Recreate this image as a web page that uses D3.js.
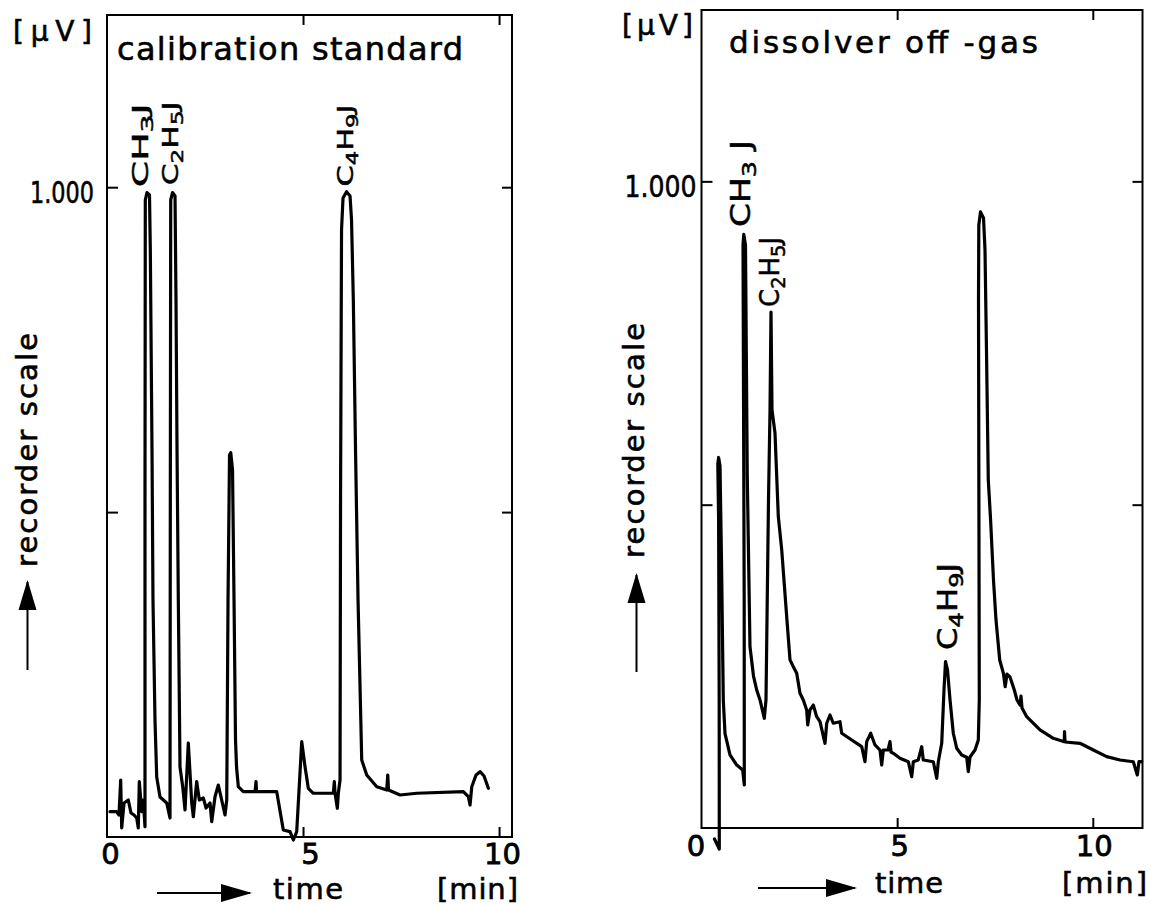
<!DOCTYPE html>
<html>
<head>
<meta charset="utf-8">
<script src="https://cdn.jsdelivr.net/npm/d3@7"></script>
<style>
  body { margin: 0; background: #fff; }
  text { font-family: "DejaVu Sans", sans-serif; fill: #000; }
</style>
</head>
<body>
<svg id="chart"></svg>
<script>
// calibration standard trace: time [min], signal [µV]
const calibTime = [0.077,0.247,0.306,0.349,0.375,0.434,0.543,0.612,0.689,0.758,0.798,0.824,0.885,0.926,0.969,0.969,0.977,1.020,1.084,1.105,1.148,1.173,1.224,1.268,1.352,1.523,1.607,1.615,1.625,1.671,1.735,1.760,1.786,1.819,1.862,1.931,1.990,2.074,2.161,2.202,2.288,2.355,2.457,2.526,2.628,2.671,2.755,2.839,2.926,3.010,3.054,3.087,3.125,3.156,3.202,3.240,3.278,3.304,3.349,3.477,3.776,3.801,3.814,4.329,4.497,4.668,4.753,4.839,4.967,5.051,5.135,5.263,5.773,5.798,5.816,5.875,5.901,5.944,5.957,5.982,6.020,6.110,6.199,6.237,6.283,6.339,6.403,6.497,6.625,6.880,7.135,7.161,7.181,7.474,7.901,9.089,9.217,9.260,9.304,9.413,9.515,9.617,9.727];
const calibSignal = [38.9,38.9,33.9,87.7,13.9,52.3,56.9,36.9,33.9,29.2,13.9,85.1,38.9,56.9,15.9,518.6,980.3,991.8,988,903.4,595.6,364.7,180,92.3,61.6,52.3,29.2,518.6,980.3,991.8,986.5,826.4,595.6,364.7,107.7,77.4,41.6,144.7,52.3,31.2,85.1,56.9,60,44.6,52.3,23.5,62,80,56.9,33.9,56.9,364.7,587.9,591.4,564.8,364.7,149.3,107.7,77.4,69.7,69.7,85.1,69.7,69.7,10.8,8.2,-4.6,8.2,146.7,108.2,74.9,67.3,67.3,85.1,67.7,44.2,67.7,87.7,518.6,934.1,983.4,993.1,986.5,949.5,826.4,595.6,364.7,118.5,95.4,77.4,72.3,95.4,72.3,64.6,67.3,69.7,62,49.2,77.4,95.4,100.5,93.9,75];

// dissolver off-gas trace
const offgasTime = [0.332,0.455,0.452,0.437,0.417,0.437,0.473,0.511,0.557,0.601,0.728,0.900,1.053,1.094,1.091,1.061,1.081,1.124,1.170,1.239,1.329,1.411,1.495,1.605,1.648,1.712,1.751,1.776,1.802,1.878,1.963,2.050,2.177,2.262,2.346,2.433,2.517,2.602,2.688,2.714,2.773,2.857,2.944,3.028,3.156,3.200,3.284,3.368,3.539,3.583,3.839,4.094,4.178,4.222,4.324,4.434,4.562,4.605,4.646,4.766,4.817,4.843,4.902,5.073,5.285,5.372,5.413,5.540,5.627,5.668,5.924,6.011,6.052,6.139,6.197,6.236,6.287,6.351,6.435,6.522,6.650,6.778,6.818,6.862,6.990,7.074,7.099,7.079,7.087,7.130,7.207,7.245,7.283,7.329,7.388,7.462,7.526,7.621,7.715,7.761,7.807,7.884,7.994,8.063,8.139,8.165,8.191,8.311,8.651,8.990,9.272,9.277,9.290,9.673,10.013,10.355,10.695,11.035,11.137,11.180,11.249];
const offgasSignal = [-17,-32.5,198,476,563,573,560,414,198,146,113,97.4,89.8,66.5,352.6,901.6,917.9,901.6,543,280.4,235,213.4,198,169.7,198,507,646.5,798,646.5,611,481.4,430,326.8,260,249.5,239.3,208.3,198,182.5,159.3,182.5,190.2,172.1,164.4,131,162,174.8,162,164.4,146.5,136.1,125.8,102.5,133.5,146.5,128.4,120.6,97.4,120.6,120.6,133.5,117.5,115.5,107.8,102.5,79.3,102.5,105.2,125.7,105.2,102.5,76.9,102.5,131,213.4,257.2,244.4,198,146.5,123.3,112.9,109.3,87.1,109.8,120.6,136.1,198,816.6,932.6,952.7,943.4,894,739,538,476.3,383.5,321.7,259.8,239.3,218.5,238,233.5,213.4,198,190.2,204,185.6,172.1,151.6,138.7,133.5,149,133,131,120.6,110.3,105.2,102.5,82,102.5,102.5];

// axis ticks and labels
const timeTicks = [0, 5, 10];
const signalTicks = [500, 1000];
const signalTickLabel = "1.000";

// peak annotations: formula, retention time, signal where the label starts
const calibPeaks = ["CH3J", "C2H5J", "C4H9J"];
const calibPeakTime = [1.054, 1.819, 6.283];
const calibPeakSignal = [1000, 1003, 1001];
const offgasPeaks = ["CH3 J", "C2H5J", "C4H9J"];
const offgasPeakTime = [1.239, 1.981, 6.529];
const offgasPeakSignal = [929.5, 805.8, 275.3];

const svg = d3.select("#chart")
    .attr("width", 1151)
    .attr("height", 906);

function addFormula(sel, label) {
    let sub = false;
    for (const ch of label) {
        const digit = /\d/.test(ch);
        const t = sel.append("tspan").text(ch);
        if (digit) {
            t.attr("font-size", "0.75em");
            if (!sub) t.attr("dy", "0.3em");
            sub = true;
        } else if (sub) {
            t.attr("dy", "-0.225em");
            sub = false;
        }
    }
}

function arrowRight(x0, x1, y, head) {
    svg.append("line").attr("x1", x0).attr("x2", x1 - 2).attr("y1", y).attr("y2", y)
        .attr("stroke", "#000").attr("stroke-width", 2);
    svg.append("path")
        .attr("d", `M${x1 - head},${y - 9}L${x1},${y}L${x1 - head},${y + 9}Z`)
        .attr("fill", "#000");
}

function arrowUp(x, y0, y1, head) {
    svg.append("line").attr("x1", x).attr("x2", x).attr("y1", y0).attr("y2", y1 + 2)
        .attr("stroke", "#000").attr("stroke-width", 2);
    svg.append("path")
        .attr("d", `M${x - 9},${y1 + head}L${x},${y1}L${x + 9},${y1 + head}Z`)
        .attr("fill", "#000");
}

// stencil lettering is a bit heavier than the screen font
function ink(sel, w) {
    return sel.attr("stroke", "#000").attr("stroke-width", w).attr("paint-order", "stroke");
}

function drawPanel(p) {
    const x = d3.scaleLinear().domain([0, p.tMax]).range(p.xRange);
    const y = d3.scaleLinear().domain([0, p.vMax]).range(p.yRange);
    const [left, right] = p.xRange;
    const [bottom, top] = p.yRange;

    svg.append("rect")
        .attr("x", left).attr("y", top)
        .attr("width", right - left).attr("height", bottom - top)
        .attr("fill", "none").attr("stroke", "#000").attr("stroke-width", 2);

    const styleAxis = g => {
        g.select(".domain").remove();
        g.selectAll(".tick line").attr("stroke", "#000").attr("stroke-width", 2);
        g.attr("font-family", null).attr("font-size", null);
    };

    // bottom axis with labels
    const xb = svg.append("g")
        .attr("transform", `translate(0,${bottom})`)
        .call(d3.axisBottom(x).tickValues(timeTicks).tickSize(-10).tickPadding(p.xPad).tickFormat(d3.format("d")))
        .call(styleAxis);
    xb.selectAll(".tick text")
        .attr("font-size", 29)
        .attr("dx", (d, i) => p.xLabelDx[i])
        .call(ink, 0.8);
    xb.selectAll(".tick").filter(d => d === 0).select("line").remove();

    svg.append("g")
        .attr("transform", `translate(0,${top})`)
        .call(d3.axisTop(x).tickValues(timeTicks.slice(1)).tickSize(-10).tickFormat(""))
        .call(styleAxis);

    const yl = svg.append("g")
        .attr("transform", `translate(${left},0)`)
        .call(d3.axisLeft(y).tickValues(signalTicks).tickSize(-11).tickPadding(p.yPad)
            .tickFormat(d => d === 1000 ? signalTickLabel : ""))
        .call(styleAxis);
    yl.selectAll(".tick text")
        .attr("font-size", 31)
        .attr("dy", "0.48em")
        .attr("textLength", d => d === 1000 ? p.yLabelWidth : null)
        .attr("lengthAdjust", "spacingAndGlyphs")
        .call(ink, 0.6);

    svg.append("g")
        .attr("transform", `translate(${right},0)`)
        .call(d3.axisRight(y).tickValues(signalTicks).tickSize(-10).tickFormat(""))
        .call(styleAxis);

    // trace
    const line = d3.line()
        .x(d => x(d[0]))
        .y(d => y(d[1]))
        .curve(d3.curveLinear);
    svg.append("path")
        .datum(d3.zip(p.time, p.signal))
        .attr("fill", "none")
        .attr("stroke", "#000")
        .attr("stroke-width", 3.2)
        .attr("stroke-linejoin", "round")
        .attr("stroke-linecap", "round")
        .attr("d", line);

    // peak labels
    p.peaks.forEach((lab, i) => {
        const t = svg.append("text")
            .attr("transform", `translate(${x(p.peakTime[i])},${y(p.peakSignal[i])}) rotate(-90)`)
            .attr("font-size", p.peakFont)
            .attr("textLength", p.peakLen[i])
            .attr("lengthAdjust", "spacingAndGlyphs")
            .call(ink, 0.5);
        addFormula(t, lab);
    });

    // texts
    const label = (o, txt, size) => svg.append("text")
        .attr("x", o.x).attr("y", o.y)
        .attr("font-size", size)
        .attr("textLength", o.len).attr("lengthAdjust", "spacing")
        .call(ink, 0.6)
        .text(txt);
    label(p.title, p.title.text, p.title.size);
    label(p.unit, "[µV]", 28);
    label(p.time0, "time", 29);
    label(p.min, "[min]", 29);

    svg.append("text")
        .attr("transform", `translate(${p.ylab.x},${p.ylab.y}) rotate(-90)`)
        .attr("font-size", 29)
        .attr("textLength", p.ylab.len).attr("lengthAdjust", "spacing")
        .call(ink, 0.6)
        .text("recorder scale");

    arrowRight(p.xArrow[0], p.xArrow[1], p.xArrow[2], 31);
    arrowUp(p.yArrow[0], p.yArrow[1], p.yArrow[2], 30);
}

drawPanel({
    time: calibTime, signal: calibSignal,
    tMax: 10.33, vMax: 1265,
    xRange: [107, 512], yRange: [837, 15],
    xPad: 6, xLabelDx: [3, 7, 3], yPad: 13, yLabelWidth: 64,
    peaks: calibPeaks, peakTime: calibPeakTime, peakSignal: calibPeakSignal,
    peakFont: 22, peakLen: [84, 84, 82],
    title: { text: "calibration standard", x: 117, y: 60, size: 32, len: 346 },
    unit: { x: 13, y: 41, len: 79 },
    time0: { x: 273, y: 899, len: 70 },
    min: { x: 437, y: 899, len: 81 },
    ylab: { x: 37, y: 567, len: 234 },
    xArrow: [157, 252, 893],
    yArrow: [27.5, 670, 580]
});

drawPanel({
    time: offgasTime, signal: offgasSignal,
    tMax: 11.27, vMax: 1265,
    xRange: [701.5, 1142.5], yRange: [828, 10],
    xPad: 7, xLabelDx: [-6, 2, 1], yPad: 5, yLabelWidth: 72,
    peaks: offgasPeaks, peakTime: offgasPeakTime, peakSignal: offgasPeakSignal,
    peakFont: 26, peakLen: [87, 70, 87],
    title: { text: "dissolver off -gas", x: 729, y: 53, size: 31, len: 309 },
    unit: { x: 622, y: 35, len: 71 },
    time0: { x: 875, y: 893, len: 68 },
    min: { x: 1062, y: 893, len: 85 },
    ylab: { x: 644, y: 558, len: 235 },
    xArrow: [758, 857, 888],
    yArrow: [636.5, 672, 573]
});
</script>
</body>
</html>
